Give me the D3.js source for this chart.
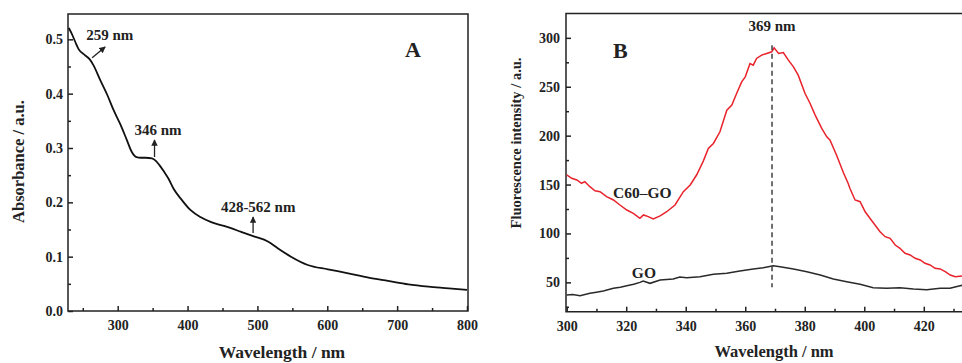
<!DOCTYPE html>
<html><head><meta charset="utf-8">
<script src="https://cdn.jsdelivr.net/npm/d3@7"></script>
<style>
html,body{margin:0;padding:0;background:#fff;}
svg{display:block;}
text{font-family:"Liberation Serif","Times New Roman",serif;font-weight:bold;fill:#222;}
</style></head>
<body>
<svg id="chart" width="962" height="363"></svg>
<script>
// ---------- Panel A data: absorbance ----------
const absWavelength = [230,234,239,244,253,260,265,275,285,294,304,313,320,327,333,340,349,355,360,366,373,380,392,404,419,433,452,476,496,515,529,548,572,601,630,659,687,716,745,774,800];
const absValue      = [0.521,0.511,0.496,0.482,0.471,0.463,0.453,0.425,0.398,0.370,0.343,0.315,0.293,0.283,0.282,0.282,0.281,0.276,0.268,0.257,0.243,0.225,0.204,0.186,0.1725,0.164,0.1565,0.146,0.137,0.128,0.1155,0.100,0.0847,0.0768,0.0694,0.0614,0.0553,0.049,0.0448,0.0418,0.0387];
const absXTicks = [300,400,500,600,700,800];
const absYTicks = [0.0,0.1,0.2,0.3,0.4,0.5];

// ---------- Panel B data: fluorescence ----------
const c60Wavelength = [300,301.7,303.4,305,306.1,307.8,309.5,311.2,313.4,315.7,317.9,320.2,322.4,324.6,325.8,327.4,329.1,331.4,333.6,336.4,339.2,341.5,343.7,345.9,347.6,349.3,351.5,353.8,355.5,357.1,358.8,360,361.6,362.7,363.8,365.5,367.2,368.9,369.7,371.2,372.8,374.5,376.2,377.8,380.1,381.8,383.5,385.7,387.4,388.5,390.7,393,394.6,395.2,396.9,398.6,400.3,401.9,403.6,405.3,407,408.7,410.4,412,413.7,415.4,417.1,418.8,420.4,422.1,423.8,425.5,427.2,428.9,430.6,432.8,435];
const c60Intensity  = [159.8,156.4,154.7,151.3,153,147.8,143.7,142.7,137.6,134.2,129.1,124,120.6,115.5,118.9,117.2,114.8,117.9,122.2,129.1,142.7,149.6,160,174,187,192,204,226,231.2,243.1,255,260.1,273.8,272.1,278.9,282.3,284,285.7,289.8,284,285,277.2,270.3,261.9,243.1,232.9,221,207.4,198.8,195.4,180,162,151.1,146,134.2,132.5,122.2,115.5,108.6,101.8,96.7,95,88.2,84.8,79.7,78,74.6,72.9,69.5,67.8,64.4,63.7,61,57.5,55.8,56.5,55];
const goWavelength = [300,302,304.5,307.8,310,312.3,315.7,318,320.2,322.5,324.6,325.7,328,331.4,335.8,338,340.3,344.8,349.3,353.8,358.2,362.7,366.1,369.4,371.7,376.2,380.7,385.2,389.6,394.1,398.6,403,407.5,412,416.5,421,425.5,428.8,432.2,435];
const goIntensity  = [37.1,37.5,36.4,38.8,40,41.2,43.9,45,46.6,48,50,51.3,49,52.4,53.4,55.5,54.8,55.8,58.2,59.3,61.6,63.7,65,67,66,63.7,60.9,57.5,53.4,50.7,48,44.5,43.9,44.5,43.2,42.5,43.9,43.9,46.6,48];
const flXTicks = [300,320,340,360,380,400,420];
const flYTicks = [50,100,150,200,250,300];
const peakWavelength = 369;

const svg = d3.select("#chart");
const defs = svg.append("defs");
defs.append("marker").attr("id","arrow").attr("viewBox","0 0 10 10").attr("refX",9).attr("refY",5)
  .attr("markerWidth",5).attr("markerHeight",5).attr("orient","auto")
  .append("path").attr("d","M0,0 L10,5 L0,10 z").attr("fill","#222");

const INK = "#222";

// ================= Panel A =================
const xA = d3.scaleLinear().domain([230,800]).range([68.8,467]);
const yA = d3.scaleLinear().domain([0,0.5466]).range([311,14]);
const gA = svg.append("g");

function styleAxis(g, size){
  g.select(".domain").remove();
  g.selectAll(".tick line").attr("stroke",INK).attr("stroke-width",1.5);
  g.selectAll(".tick text").attr("font-size",size).attr("fill",INK)
    .attr("font-family","Liberation Serif, serif").attr("font-weight","bold");
}

// minor ticks
gA.append("g").attr("transform","translate(0,311)")
  .call(d3.axisBottom(xA).tickValues(d3.range(250,800,100)).tickSize(-3).tickFormat(""))
  .call(g=>styleAxis(g,14));
gA.append("g").attr("transform","translate(68,0)")
  .call(d3.axisLeft(yA).tickValues([0.05,0.15,0.25,0.35,0.45]).tickSize(-3).tickFormat(""))
  .call(g=>styleAxis(g,14));
// major ticks
gA.append("g").attr("transform","translate(0,311)")
  .call(d3.axisBottom(xA).tickValues(absXTicks).tickSize(-5).tickPadding(9).tickFormat(d3.format("d")))
  .call(g=>styleAxis(g,14));
gA.append("g").attr("transform","translate(68,0)")
  .call(d3.axisLeft(yA).tickValues(absYTicks).tickSize(-5).tickPadding(5).tickFormat(d3.format(".1f")))
  .call(g=>styleAxis(g,14));

gA.append("rect").attr("x",68).attr("y",14).attr("width",400).attr("height",297)
  .attr("fill","none").attr("stroke",INK).attr("stroke-width",1.5);

gA.append("path")
  .datum(absWavelength.map((w,i)=>[w,absValue[i]]))
  .attr("fill","none").attr("stroke","#111").attr("stroke-width",1.8)
  .attr("d", d3.line().x(d=>xA(d[0])).y(d=>yA(d[1])).curve(d3.curveMonotoneX));

gA.append("text").attr("x",282).attr("y",358).attr("text-anchor","middle").attr("font-size",17.5).text("Wavelength / nm");
gA.append("text").attr("transform","translate(24,161.5) rotate(-90)").attr("text-anchor","middle").attr("font-size",16.5).text("Absorbance / a.u.");
gA.append("text").attr("x",xA(711.3)).attr("y",yA(0.4674)).attr("font-size",22).text("A");

// annotations A
const annA = [
  {t:"259 nm", x:254.8, y:0.499, ax1:263.4, ay1:0.466, ax2:282, ay2:0.486},
  {t:"346 nm", x:323.9, y:0.324, ax1:352.7, ay1:0.2834, ax2:352.7, ay2:0.3147},
  {t:"428-562 nm", x:447.7, y:0.1827, ax1:493.8, ay1:0.1435, ax2:493.8, ay2:0.173}
];
annA.forEach(a=>{
  gA.append("text").attr("x",xA(a.x)).attr("y",yA(a.y)).attr("font-size",15).text(a.t);
  gA.append("line").attr("x1",xA(a.ax1)).attr("y1",yA(a.ay1)).attr("x2",xA(a.ax2)).attr("y2",yA(a.ay2))
    .attr("stroke",INK).attr("stroke-width",1.3).attr("marker-end","url(#arrow)");
});

// ================= Panel B =================
const xB = d3.scaleLinear().domain([300,440]).range([566.7,983.3]);
const yB = d3.scaleLinear().domain([20,325]).range([311.7,13.4]);
const gB = svg.append("g");

gB.append("g").attr("transform","translate(0,311.7)")
  .call(d3.axisBottom(xB).tickValues(d3.range(310,440,20)).tickSize(-3).tickFormat(""))
  .call(g=>styleAxis(g,14));
gB.append("g").attr("transform","translate(566,0)")
  .call(d3.axisLeft(yB).tickValues(d3.range(25,300,50)).tickSize(-3).tickFormat(""))
  .call(g=>styleAxis(g,14));
gB.append("g").attr("transform","translate(0,311.7)")
  .call(d3.axisBottom(xB).tickValues(flXTicks).tickSize(-5).tickPadding(9).tickFormat(d3.format("d")))
  .call(g=>styleAxis(g,14));
gB.append("g").attr("transform","translate(566,0)")
  .call(d3.axisLeft(yB).tickValues(flYTicks).tickSize(-5).tickPadding(6).tickFormat(d3.format("d")))
  .call(g=>styleAxis(g,14));

gB.append("path").attr("d","M990,13.4 H566 V311.7 H990")
  .attr("fill","none").attr("stroke",INK).attr("stroke-width",1.5);

const lineB = d3.line().x(d=>xB(d[0])).y(d=>yB(d[1]));
gB.append("path").datum(goWavelength.map((w,i)=>[w,goIntensity[i]]))
  .attr("fill","none").attr("stroke","#2a2a2a").attr("stroke-width",1.5).attr("d",lineB);
gB.append("path").datum(c60Wavelength.map((w,i)=>[w,c60Intensity[i]]))
  .attr("fill","none").attr("stroke","#e8232b").attr("stroke-width",1.5).attr("d",lineB);

gB.append("line").attr("x1",xB(peakWavelength)).attr("x2",xB(peakWavelength))
  .attr("y1",yB(292.5)).attr("y2",yB(45))
  .attr("stroke","#333").attr("stroke-width",1.4).attr("stroke-dasharray","5,3.5");

gB.append("text").attr("x",xB(peakWavelength)).attr("y",yB(306.9)).attr("text-anchor","middle").attr("font-size",15).text("369 nm");
gB.append("text").attr("x",xB(315.6)).attr("y",yB(279.2)).attr("font-size",22).text("B");
gB.append("text").attr("x",xB(315.6)).attr("y",yB(136)).attr("font-size",15.5).text("C60–GO");
gB.append("text").attr("x",xB(321.9)).attr("y",yB(54.3)).attr("font-size",15.5).text("GO");

gB.append("text").attr("x",774).attr("y",357).attr("text-anchor","middle").attr("font-size",16.5).text("Wavelength / nm");
gB.append("text").attr("transform","translate(521,143) rotate(-90)").attr("text-anchor","middle").attr("font-size",14.5).text("Fluorescence intensity / a.u.");
</script>
</body></html>
